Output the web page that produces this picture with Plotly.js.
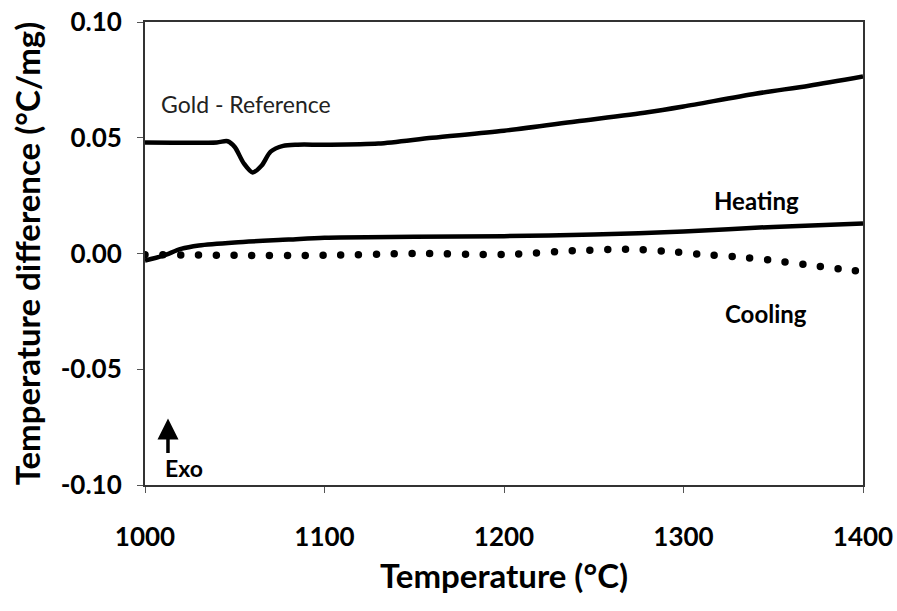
<!DOCTYPE html>
<html>
<head>
<meta charset="utf-8">
<script src="https://cdn.plot.ly/plotly-3.0.1.min.js"></script>
<style>
html,body{margin:0;padding:0;background:#fff;}
#chart{width:897px;height:611px;}
.cooling-line path.js-line{stroke-linecap:round;}
</style>
</head>
<body>
<div id="chart"></div>
<script>
// Gold - Reference curve
const goldX = [1000, 1040, 1046, 1050, 1055, 1060, 1065, 1070, 1077, 1085, 1100, 1130, 1160, 1200, 1240, 1280, 1300, 1340, 1370, 1400];
const goldY = [0.048, 0.048, 0.0485, 0.046, 0.039, 0.035, 0.038, 0.044, 0.0465, 0.047, 0.047, 0.0475, 0.050, 0.053, 0.057, 0.061, 0.0635, 0.069, 0.0725, 0.0765];
// Heating curve
const heatX = [1000, 1010, 1020, 1030, 1050, 1080, 1100, 1150, 1200, 1250, 1300, 1350, 1400];
const heatY = [-0.003, -0.001, 0.002, 0.0035, 0.0048, 0.006, 0.0068, 0.0072, 0.0075, 0.0082, 0.0095, 0.0115, 0.013];
// Cooling curve
const coolX = [1000, 1050, 1100, 1150, 1200, 1240, 1270, 1290, 1310, 1330, 1350, 1370, 1390, 1400];
const coolY = [-0.0005, -0.0008, -0.0008, 0.0, -0.0004, 0.0012, 0.0018, 0.001, -0.0004, -0.0015, -0.003, -0.005, -0.007, -0.0078];
// Axis ticks
const xTicks = [1000, 1100, 1200, 1300, 1400];
const yTicks = [-0.10, -0.05, 0.00, 0.05, 0.10];
const yTickText = ['-0.10', '-0.05', '0.00', '0.05', '0.10'];

const FONT = 'Lato, "Open Sans", sans-serif';

const traces = [
  {x: goldX, y: goldY, mode: 'lines', line: {color: '#000', width: 4.5, shape: 'spline', smoothing: 0.8}, showlegend: false, hoverinfo: 'skip'},
  {x: heatX, y: heatY, mode: 'lines', line: {color: '#000', width: 4.5, shape: 'spline', smoothing: 0.8}, showlegend: false, hoverinfo: 'skip'},
  {x: coolX, y: coolY, mode: 'lines', line: {color: '#000', width: 7.5, dash: '0px,17.8px', shape: 'spline', smoothing: 0.8}, showlegend: false, hoverinfo: 'skip'}
];

const layout = {
  width: 897, height: 611,
  margin: {l: 145, r: 34, t: 22, b: 126},
  paper_bgcolor: '#fff', plot_bgcolor: '#fff',
  font: {family: FONT, color: '#000'},
  xaxis: {
    range: [1000, 1400], tickvals: xTicks, ticktext: xTicks.map(String),
    showgrid: false, zeroline: false, showline: true, mirror: true,
    linecolor: '#333', linewidth: 2, ticks: 'outside', ticklen: 6, tickcolor: '#555',
    ticklabelstandoff: 22,
    tickfont: {family: FONT, size: 26, color: '#000', weight: 'bold'},
    title: {text: '<b>Temperature (°C)</b>', font: {family: FONT, size: 33, color: '#000'}, standoff: 14}
  },
  yaxis: {
    range: [-0.10, 0.10], tickvals: yTicks, ticktext: yTickText,
    showgrid: false, zeroline: false, showline: true, mirror: true,
    linecolor: '#333', linewidth: 2, ticks: 'outside', ticklen: 6, tickcolor: '#555',
    ticklabelstandoff: 10,
    tickfont: {family: FONT, size: 26, color: '#000', weight: 'bold'},
    title: {text: '<b>Temperature difference (°C/mg)</b>', font: {family: FONT, size: 33, color: '#000'}, standoff: 10}
  },
  annotations: [
    {x: 1056.3, y: 0.0644, text: 'Gold - Reference', showarrow: false, font: {family: FONT, size: 23, color: '#222'}},
    {x: 1340.4, y: 0.0229, text: '<b>Heating</b>', showarrow: false, font: {family: FONT, size: 24, color: '#000'}},
    {x: 1346, y: -0.0259, text: '<b>Cooling</b>', showarrow: false, font: {family: FONT, size: 24, color: '#000'}},
    {x: 1022, y: -0.0925, text: '<b>Exo</b>', showarrow: false, font: {family: FONT, size: 23, color: '#000'}},
    {x: 1012.8, y: -0.0713, ax: 0, ay: 36, text: '', showarrow: true, arrowhead: 2, arrowsize: 1.2, arrowwidth: 3.5, arrowcolor: '#000'}
  ]
};

Plotly.newPlot('chart', traces, layout, {displayModeBar: false, staticPlot: true}).then(function(){
  const tr = document.querySelectorAll('.scatterlayer .trace');
  if (tr[2]) tr[2].classList.add('cooling-line');
});
</script>
</body>
</html>
